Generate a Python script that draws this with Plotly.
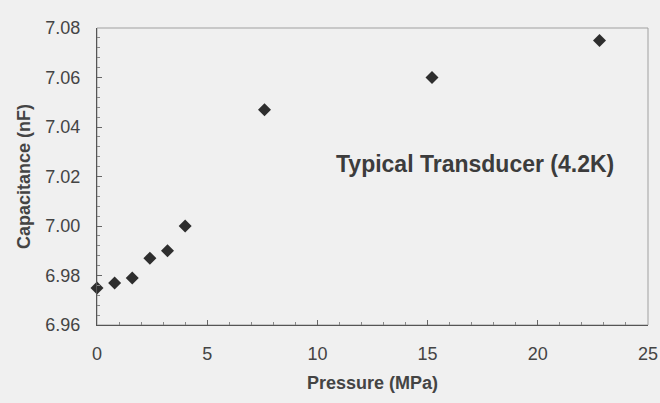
import plotly.graph_objects as go

pressure_mpa = [0.0, 0.8, 1.6, 2.4, 3.2, 4.0, 7.6, 15.2, 22.8]
capacitance_nf = [6.975, 6.977, 6.979, 6.987, 6.990, 7.000, 7.047, 7.060, 7.075]
x_ticks = [0, 5, 10, 15, 20, 25]
y_ticks = [6.96, 6.98, 7.00, 7.02, 7.04, 7.06, 7.08]
label_text = "Typical Transducer (4.2K)"

bg = "#f0f0f0"
fig = go.Figure()
fig.add_trace(go.Scatter(
    x=pressure_mpa, y=capacitance_nf, mode="markers",
    marker=dict(symbol="diamond", size=10, color="#2e2e2e"),
    showlegend=False, cliponaxis=False,
))

font_family = "Liberation Sans, Arial, sans-serif"
fig.update_layout(
    width=660, height=403,
    margin=dict(l=97, r=12, t=28, b=78, autoexpand=False),
    paper_bgcolor=bg, plot_bgcolor=bg,
    font=dict(family=font_family, color="#444444"),
    shapes=[dict(type="rect", xref="paper", yref="paper", x0=0, y0=0, x1=1, y1=1,
                 line=dict(color="#a0a0a0", width=1), layer="below")],
    annotations=[dict(x=0.43, y=0.542, xref="paper", yref="paper", text=f"<b>{label_text}</b>",
                      showarrow=False, font=dict(size=23, color="#3c3c3c", family=font_family),
                      xanchor="left", yanchor="middle")],
)
fig.update_xaxes(
    range=[0, 25], tickvals=x_ticks, ticktext=[str(v) for v in x_ticks],
    automargin=False,
    showgrid=False, zeroline=False, showline=True, linecolor="#555555", linewidth=1,
    ticks="inside", ticklen=5, tickcolor="#666666", ticklabelstandoff=12,
    minor=dict(ticks="inside", ticklen=3, dtick=1, tickcolor="#888888", showgrid=False),
    tickfont=dict(size=18, color="#444444"),
    title=dict(text="<b>Pressure (MPa)</b>", font=dict(size=18, color="#444444"), standoff=13),
)
fig.update_yaxes(
    range=[6.96, 7.08], tickvals=y_ticks, ticktext=[f"{v:.2f}" for v in y_ticks],
    automargin=False,
    showgrid=False, zeroline=False, showline=True, linecolor="#555555", linewidth=1,
    ticks="inside", ticklen=5, tickcolor="#666666", ticklabelstandoff=12,
    minor=dict(ticks="inside", ticklen=3, dtick=0.004, tickcolor="#888888", showgrid=False),
    tickfont=dict(size=18, color="#444444"),
    title=dict(text="<b>Capacitance (nF)</b>", font=dict(size=18, color="#444444"), standoff=10),
)
fig.write_html("out.html", config={"displayModeBar": False},
               post_script="document.body.style.margin='0';document.body.style.background='%s';" % bg)
